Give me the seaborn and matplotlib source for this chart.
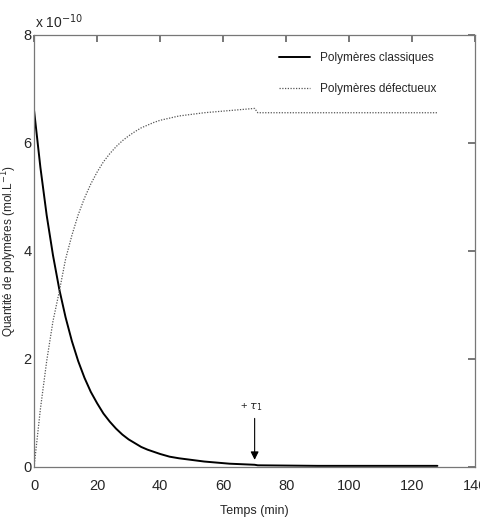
import matplotlib
matplotlib.use("Agg")
import matplotlib.pyplot as plt
import seaborn as sns
import pandas as pd

# values, in units of 1e-10 mol/L
temps = [0, 2, 4, 6, 8, 10, 12, 14, 16, 18, 20, 22, 24, 26, 28, 30, 32, 34, 36, 38,
         40, 43, 46, 50, 54, 58, 62, 66, 70]
classiques = [6.60, 5.55, 4.66, 3.92, 3.29, 2.77, 2.33, 1.96, 1.65, 1.39, 1.18, 0.99,
              0.84, 0.71, 0.60, 0.51, 0.44, 0.37, 0.32, 0.28, 0.24, 0.19, 0.16, 0.13,
              0.10, 0.08, 0.06, 0.05, 0.04]
defectueux = [0.00, 1.07, 1.96, 2.70, 3.25, 3.85, 4.29, 4.67, 4.98, 5.24, 5.46, 5.65,
              5.80, 5.93, 6.04, 6.13, 6.21, 6.28, 6.33, 6.38, 6.42, 6.46, 6.50, 6.53,
              6.56, 6.58, 6.60, 6.62, 6.64]
temps_fin = [70, 71, 90, 110, 128]
classiques_fin = [0.04, 0.03, 0.02, 0.02, 0.02]
defectueux_fin = [6.64, 6.56, 6.56, 6.56, 6.56]

x_ticks = [0, 20, 40, 60, 80, 100, 120, 140]
y_ticks = [0, 2, 4, 6, 8]

sns.set_theme(style="white")
plt.rcParams['font.family'] = ['Liberation Sans', 'DejaVu Sans']

df = pd.DataFrame({
    "t": temps + temps_fin,
    "classiques": classiques + classiques_fin,
    "defectueux": defectueux + defectueux_fin,
})

fig = plt.figure(figsize=(4.8, 5.3), dpi=100)
ax = fig.add_axes([0.071, 0.119, 0.919, 0.815])

sns.lineplot(data=df, x="t", y="classiques", ax=ax, color="black", lw=1.4,
             label="Polymères classiques", sort=False)
sns.lineplot(data=df, x="t", y="defectueux", ax=ax, color="#555555", lw=0.9,
             linestyle=(0, (1, 1.2)), label="Polymères défectueux", sort=False)

ax.set_xlim(0, 140)
ax.set_ylim(0, 8)
ax.set_xticks(x_ticks)
ax.set_yticks(y_ticks)
ax.tick_params(direction="in", length=5, color="#666666", labelsize=10.5,
               top=True, right=True)
ax.tick_params(axis="x", pad=9)
ax.tick_params(axis="y", pad=2)
for s in ax.spines.values():
    s.set_color("#777777")
    s.set_linewidth(0.9)

ax.set_xlabel("Temps (min)", fontsize=9, labelpad=8)
ax.set_ylabel("Quantité de polymères (mol.L$^{-1}$)", fontsize=8.5, labelpad=3)
fig.text(0.072, 0.948, "x 10$^{-10}$", fontsize=10)

ax.annotate("", xy=(70, 0.08), xytext=(70, 0.95),
            arrowprops=dict(arrowstyle="-|>", color="black", lw=0.8))
ax.text(69, 1.0, "+ $\\tau_1$", fontsize=8, ha="center", va="bottom")

leg = ax.legend(loc="upper right", frameon=False, fontsize=8.5,
                bbox_to_anchor=(0.935, 0.985), handlelength=2.6, labelspacing=1.6)

fig.savefig("out.png", dpi=100)
